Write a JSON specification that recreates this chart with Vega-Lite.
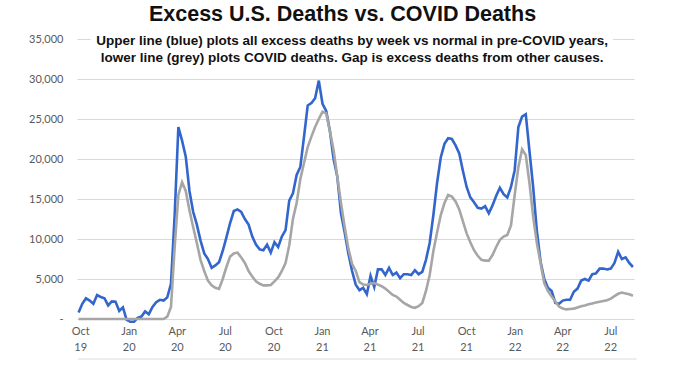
{
  "$schema": "https://vega.github.io/schema/vega-lite/v6.json",
  "autosize": {"type": "none"},
  "padding": {"left": 77, "top": 39, "right": 44, "bottom": 62},
  "width": 557,
  "height": 280,
  "background": "white",
  "config": {
    "view": {"stroke": null},
    "axisY": {
      "title": null,
      "grid": true,
      "gridColor": "#d9d9d9",
      "gridWidth": 1,
      "domain": false,
      "ticks": false,
      "tickCount": 7,
      "labelOverlap": false,
      "labelPadding": 14,
      "labelFont": "Lato",
      "labelFontSize": 11,
      "labelColor": "#595959",
      "labelExpr": "datum.value == 0 ? '-\u00a0\u00a0\u00a0' : format(datum.value, ',')"
    }
  },
  "title": {
    "text": "Excess U.S. Deaths vs. COVID Deaths",
    "font": "Liberation Sans",
    "fontSize": 21.5,
    "fontWeight": "bold",
    "color": "#111111",
    "anchor": "middle",
    "frame": "group",
    "dx": -13,
    "offset": 8
  },
  "data": {
    "values": [
      {"date": "2019-09-28", "excess": 800, "covid": 0},
      {"date": "2019-10-05", "excess": 1900, "covid": 0},
      {"date": "2019-10-12", "excess": 2600, "covid": 0},
      {"date": "2019-10-19", "excess": 2300, "covid": 0},
      {"date": "2019-10-26", "excess": 1900, "covid": 0},
      {"date": "2019-11-02", "excess": 3000, "covid": 0},
      {"date": "2019-11-09", "excess": 2750, "covid": 0},
      {"date": "2019-11-16", "excess": 2600, "covid": 0},
      {"date": "2019-11-23", "excess": 1700, "covid": 0},
      {"date": "2019-11-30", "excess": 2200, "covid": 0},
      {"date": "2019-12-07", "excess": 2150, "covid": 0},
      {"date": "2019-12-14", "excess": 1000, "covid": 0},
      {"date": "2019-12-21", "excess": 1450, "covid": 0},
      {"date": "2019-12-28", "excess": -100, "covid": 0},
      {"date": "2020-01-04", "excess": -350, "covid": 0},
      {"date": "2020-01-11", "excess": -350, "covid": 0},
      {"date": "2020-01-18", "excess": 150, "covid": 0},
      {"date": "2020-01-25", "excess": 300, "covid": 0},
      {"date": "2020-02-01", "excess": 950, "covid": 0},
      {"date": "2020-02-08", "excess": 600, "covid": 0},
      {"date": "2020-02-15", "excess": 1500, "covid": 0},
      {"date": "2020-02-22", "excess": 2100, "covid": 0},
      {"date": "2020-02-29", "excess": 2400, "covid": 0},
      {"date": "2020-03-07", "excess": 2300, "covid": 0},
      {"date": "2020-03-14", "excess": 2700, "covid": 300},
      {"date": "2020-03-21", "excess": 4400, "covid": 1500},
      {"date": "2020-03-28", "excess": 13000, "covid": 9000},
      {"date": "2020-04-04", "excess": 24000, "covid": 15500},
      {"date": "2020-04-11", "excess": 22300, "covid": 17100},
      {"date": "2020-04-18", "excess": 20300, "covid": 16000},
      {"date": "2020-04-25", "excess": 16000, "covid": 13600},
      {"date": "2020-05-02", "excess": 13400, "covid": 11500},
      {"date": "2020-05-09", "excess": 11800, "covid": 9500},
      {"date": "2020-05-16", "excess": 9800, "covid": 7400},
      {"date": "2020-05-23", "excess": 8200, "covid": 6000},
      {"date": "2020-05-30", "excess": 7500, "covid": 4800},
      {"date": "2020-06-06", "excess": 6400, "covid": 4200},
      {"date": "2020-06-13", "excess": 6700, "covid": 3900},
      {"date": "2020-06-20", "excess": 7100, "covid": 3750},
      {"date": "2020-06-27", "excess": 8500, "covid": 5000},
      {"date": "2020-07-04", "excess": 10200, "covid": 6500},
      {"date": "2020-07-11", "excess": 12000, "covid": 7800},
      {"date": "2020-07-18", "excess": 13500, "covid": 8200},
      {"date": "2020-07-25", "excess": 13700, "covid": 8300},
      {"date": "2020-08-01", "excess": 13400, "covid": 7700},
      {"date": "2020-08-08", "excess": 12500, "covid": 7000},
      {"date": "2020-08-15", "excess": 11800, "covid": 6000},
      {"date": "2020-08-22", "excess": 10300, "covid": 5300},
      {"date": "2020-08-29", "excess": 9300, "covid": 4700},
      {"date": "2020-09-05", "excess": 8700, "covid": 4400},
      {"date": "2020-09-12", "excess": 8600, "covid": 4200},
      {"date": "2020-09-19", "excess": 9300, "covid": 4200},
      {"date": "2020-09-26", "excess": 8300, "covid": 4250},
      {"date": "2020-10-03", "excess": 9600, "covid": 4700},
      {"date": "2020-10-10", "excess": 9000, "covid": 5200},
      {"date": "2020-10-17", "excess": 10300, "covid": 6000},
      {"date": "2020-10-24", "excess": 11100, "covid": 7000},
      {"date": "2020-10-31", "excess": 14800, "covid": 9200},
      {"date": "2020-11-07", "excess": 15700, "covid": 12500},
      {"date": "2020-11-14", "excess": 18000, "covid": 14500},
      {"date": "2020-11-21", "excess": 19000, "covid": 17500},
      {"date": "2020-11-28", "excess": 22800, "covid": 19500},
      {"date": "2020-12-05", "excess": 26700, "covid": 21500},
      {"date": "2020-12-12", "excess": 27000, "covid": 22800},
      {"date": "2020-12-19", "excess": 27600, "covid": 24000},
      {"date": "2020-12-26", "excess": 29800, "covid": 25000},
      {"date": "2021-01-02", "excess": 26900, "covid": 25900},
      {"date": "2021-01-09", "excess": 26000, "covid": 25700},
      {"date": "2021-01-16", "excess": 23500, "covid": 23500},
      {"date": "2021-01-23", "excess": 20000, "covid": 21100},
      {"date": "2021-01-30", "excess": 17800, "covid": 17800},
      {"date": "2021-02-06", "excess": 13200, "covid": 14500},
      {"date": "2021-02-13", "excess": 10800, "covid": 11500},
      {"date": "2021-02-20", "excess": 8200, "covid": 8800},
      {"date": "2021-02-27", "excess": 6000, "covid": 6900},
      {"date": "2021-03-06", "excess": 4300, "covid": 6000},
      {"date": "2021-03-13", "excess": 3600, "covid": 4600},
      {"date": "2021-03-20", "excess": 3900, "covid": 4300},
      {"date": "2021-03-27", "excess": 3100, "covid": 4250},
      {"date": "2021-04-03", "excess": 5400, "covid": 4400},
      {"date": "2021-04-10", "excess": 4000, "covid": 4500},
      {"date": "2021-04-17", "excess": 6200, "covid": 4300},
      {"date": "2021-04-24", "excess": 6200, "covid": 4100},
      {"date": "2021-05-01", "excess": 5500, "covid": 3800},
      {"date": "2021-05-08", "excess": 6400, "covid": 3400},
      {"date": "2021-05-15", "excess": 5500, "covid": 3000},
      {"date": "2021-05-22", "excess": 5800, "covid": 2800},
      {"date": "2021-05-29", "excess": 5100, "covid": 2400},
      {"date": "2021-06-05", "excess": 5600, "covid": 2000},
      {"date": "2021-06-12", "excess": 5600, "covid": 1750},
      {"date": "2021-06-19", "excess": 5500, "covid": 1500},
      {"date": "2021-06-26", "excess": 6100, "covid": 1400},
      {"date": "2021-07-03", "excess": 5600, "covid": 1600},
      {"date": "2021-07-10", "excess": 5900, "covid": 2000},
      {"date": "2021-07-17", "excess": 7400, "covid": 3500},
      {"date": "2021-07-24", "excess": 9500, "covid": 5500},
      {"date": "2021-07-31", "excess": 13000, "covid": 8500},
      {"date": "2021-08-07", "excess": 17000, "covid": 10800},
      {"date": "2021-08-14", "excess": 20200, "covid": 13000},
      {"date": "2021-08-21", "excess": 21900, "covid": 14500},
      {"date": "2021-08-28", "excess": 22600, "covid": 15500},
      {"date": "2021-09-04", "excess": 22500, "covid": 15300},
      {"date": "2021-09-11", "excess": 21700, "covid": 14700},
      {"date": "2021-09-18", "excess": 20700, "covid": 13700},
      {"date": "2021-09-25", "excess": 18500, "covid": 12200},
      {"date": "2021-10-02", "excess": 16500, "covid": 10700},
      {"date": "2021-10-09", "excess": 15200, "covid": 9600},
      {"date": "2021-10-16", "excess": 14600, "covid": 8600},
      {"date": "2021-10-23", "excess": 13900, "covid": 7900},
      {"date": "2021-10-30", "excess": 13800, "covid": 7400},
      {"date": "2021-11-06", "excess": 14100, "covid": 7300},
      {"date": "2021-11-13", "excess": 13200, "covid": 7300},
      {"date": "2021-11-20", "excess": 14200, "covid": 8000},
      {"date": "2021-11-27", "excess": 15400, "covid": 9000},
      {"date": "2021-12-04", "excess": 16400, "covid": 9900},
      {"date": "2021-12-11", "excess": 15600, "covid": 10300},
      {"date": "2021-12-18", "excess": 15200, "covid": 10500},
      {"date": "2021-12-25", "excess": 16500, "covid": 11700},
      {"date": "2022-01-01", "excess": 18600, "covid": 15500},
      {"date": "2022-01-08", "excess": 24000, "covid": 19000},
      {"date": "2022-01-15", "excess": 25300, "covid": 21200},
      {"date": "2022-01-22", "excess": 25600, "covid": 20500},
      {"date": "2022-01-29", "excess": 21000, "covid": 17000},
      {"date": "2022-02-05", "excess": 16500, "covid": 12800},
      {"date": "2022-02-12", "excess": 11000, "covid": 9500},
      {"date": "2022-02-19", "excess": 7200, "covid": 7000},
      {"date": "2022-02-26", "excess": 5000, "covid": 4500},
      {"date": "2022-03-05", "excess": 3900, "covid": 3500},
      {"date": "2022-03-12", "excess": 3500, "covid": 2800},
      {"date": "2022-03-19", "excess": 2000, "covid": 2200},
      {"date": "2022-03-26", "excess": 1900, "covid": 1550},
      {"date": "2022-04-02", "excess": 2300, "covid": 1300},
      {"date": "2022-04-09", "excess": 2400, "covid": 1200},
      {"date": "2022-04-16", "excess": 2400, "covid": 1250},
      {"date": "2022-04-23", "excess": 3400, "covid": 1300},
      {"date": "2022-04-30", "excess": 3800, "covid": 1450},
      {"date": "2022-05-07", "excess": 4800, "covid": 1600},
      {"date": "2022-05-14", "excess": 5000, "covid": 1700},
      {"date": "2022-05-21", "excess": 4800, "covid": 1850},
      {"date": "2022-05-28", "excess": 5600, "covid": 1950},
      {"date": "2022-06-04", "excess": 5700, "covid": 2050},
      {"date": "2022-06-11", "excess": 6300, "covid": 2150},
      {"date": "2022-06-18", "excess": 6300, "covid": 2250},
      {"date": "2022-06-25", "excess": 6200, "covid": 2350},
      {"date": "2022-07-02", "excess": 6300, "covid": 2550},
      {"date": "2022-07-09", "excess": 7000, "covid": 2850},
      {"date": "2022-07-16", "excess": 8400, "covid": 3150},
      {"date": "2022-07-23", "excess": 7500, "covid": 3300},
      {"date": "2022-07-30", "excess": 7700, "covid": 3200},
      {"date": "2022-08-06", "excess": 7000, "covid": 3100},
      {"date": "2022-08-13", "excess": 6500, "covid": 2900}
    ]
  },
  "layer": [
    {
      "mark": {"type": "line", "color": "#3366cc", "strokeWidth": 2.6},
      "encoding": {
        "x": {
          "field": "date",
          "type": "temporal",
          "scale": {"domain": [{"year": 2019, "month": 9, "date": 25}, {"year": 2022, "month": 8, "date": 15}]},
          "axis": {
            "title": null,
            "grid": false,
            "domain": false,
            "ticks": false,
            "tickCount": {"interval": "month", "step": 3},
            "labelExpr": "[timeFormat(datum.value, '%b'), timeFormat(datum.value, '%y')]",
            "labelFont": "Lato",
            "labelFontSize": 11,
            "labelColor": "#595959",
            "labelLineHeight": 16,
            "labelPadding": 6,
            "labelAlign": "center",
            "labelFlush": false,
            "labelOverlap": false
          }
        },
        "y": {
          "field": "excess",
          "type": "quantitative",
          "scale": {"domain": [0, 35000], "nice": false, "zero": false}
        }
      }
    },
    {
      "mark": {"type": "line", "color": "#a6a6a6", "strokeWidth": 2.6},
      "encoding": {
        "x": {"field": "date", "type": "temporal"},
        "y": {"field": "covid", "type": "quantitative"}
      }
    },
    {
      "data": {"values": [{"note": "cover"}]},
      "mark": {"type": "rect", "fill": "white", "stroke": null},
      "encoding": {
        "x": {"datum": {"year": 2019, "month": 10, "date": 21}, "type": "temporal"},
        "x2": {"datum": {"year": 2022, "month": 7, "date": 6}},
        "y": {"datum": 33400, "type": "quantitative"},
        "y2": {"datum": 35500}
      }
    },
    {
      "data": {"values": [{"note": "frame"}]},
      "mark": {"type": "rule", "stroke": "#dcdcdc", "strokeWidth": 1},
      "encoding": {
        "x": {"datum": {"year": 2019, "month": 9, "date": 27}, "type": "temporal"},
        "x2": {"datum": {"year": 2022, "month": 8, "date": 20}},
        "y": {"datum": -5000, "type": "quantitative"}
      }
    },
    {
      "data": {"values": [{"note": "subtitle"}]},
      "mark": {
        "type": "text",
        "font": "Liberation Sans",
        "fontSize": 13.5,
        "fontWeight": "bold",
        "fill": "#111111",
        "lineHeight": 17,
        "align": "center",
        "baseline": "middle"
      },
      "encoding": {
        "x": {"datum": {"year": 2021, "month": 2, "date": 27}, "type": "temporal"},
        "y": {"datum": 34750, "type": "quantitative"},
        "text": {"value": ["Upper line (blue) plots all excess deaths by week vs normal in pre-COVID years,", "lower line (grey) plots COVID deaths. Gap is excess deaths from other causes."]}
      }
    }
  ]
}
